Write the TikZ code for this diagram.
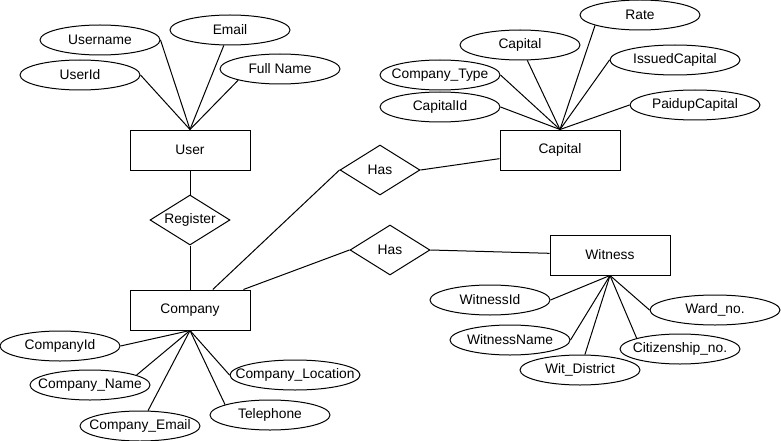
\documentclass[tikz,border=0pt]{standalone}
\usepackage{fontspec}
\setmainfont{Liberation Sans}
\usetikzlibrary{positioning,shapes.geometric}

\begin{document}
\begin{tikzpicture}[
    x=1pt, y=-1pt,
    font=\fontsize{13.8}{16}\selectfont,
    every path/.style={line width=1pt},
    entity/.style={rectangle, draw, line width=1pt, minimum width=120pt, minimum height=40pt, inner sep=0pt},
    rel/.style={diamond, draw, line width=1pt, minimum width=80pt, minimum height=50pt, inner sep=0pt, aspect=1.6},
    attr/.style={ellipse, draw, line width=1pt, minimum width=120pt, minimum height=30pt, inner sep=0pt,
        execute at begin node={\hbox to 0pt\bgroup\hss}, execute at end node={\hss\egroup}},
    wide/.style={minimum width=130pt}
]
\useasboundingbox (0,0) rectangle (781,441);

% Entities
\node[entity] (user) at (190,150) {User};
\node[entity] (company) at (190,310) {Company};
\node[entity] (capital) at (560,150) {Capital};
\node[entity] (witness) at (610,255) {Witness};

% Relations
\node[rel] (register) at (190,220) {Register};
\node[rel] (hascap) at (380,170) {Has};
\node[rel] (haswit) at (390,250) {Has};

% User attributes
\node[attr] (username) at (100,40) {Username};
\node[attr] (email) at (230,30) {Email};
\node[attr] (userid) at (80,75) {UserId};
\node[attr] (fullname) at (280,69) {Full Name};

% Capital attributes
\node[attr] (rate) at (640,15) {Rate};
\node[attr] (capattr) at (520,45) {Capital};
\node[attr, wide] (issued) at (675,60) {IssuedCapital};
\node[attr] (comptype) at (440,75) {Company\_Type};
\node[attr] (capid) at (440,107) {CapitalId};
\node[attr, wide] (paidup) at (695,105) {PaidupCapital};

% Company attributes
\node[attr] (compid) at (60,346) {CompanyId};
\node[attr] (compname) at (90,385) {Company\_Name};
\node[attr] (compemail) at (140,426) {Company\_Email};
\node[attr, wide] (comploc) at (295,375) {Company\_Location};
\node[attr] (tel) at (270,415) {Telephone};

% Witness attributes
\node[attr] (witid) at (490,300) {WitnessId};
\node[attr] (witname) at (510,340) {WitnessName};
\node[attr] (witdist) at (580,370) {Wit\_District};
\node[attr] (citizen) at (680,349) {Citizenship\_no.};
\node[attr, wide] (ward) at (715,310) {Ward\_no.};

% Attribute links
\draw (user.north) -- (username.east);
\draw (user.north) -- (email);
\draw (user.north) -- (userid.east);
\draw (user.north) -- (fullname.195);

\draw (capital.north) -- (rate.193);
\draw (capital.north) -- (capattr);
\draw (capital.north) -- (issued.west);
\draw (capital.north) -- (comptype.east);
\draw (capital.north) -- (capid.east);
\draw (capital.north) -- (paidup.west);

\draw (company.south) -- (compid.east);
\draw (company.south) -- (compname.12);
\draw (company.south) -- (compemail);
\draw (company.south) -- (comploc.west);
\draw (company.south) -- (tel.167);

\draw (witness.south) -- (witid.east);
\draw (witness.south) -- (witname.east);
\draw (witness.south) -- (witdist);
\draw (witness.south) -- (citizen.166);
\draw (witness.south) -- (ward.west);

% Relation links
\draw (user.south) -- (register.north);
\draw (register.south) -- (company.north);
\draw (company.42) -- (hascap.west);
\draw (hascap.east) -- (capital);
\draw (company.21) -- (haswit.west);
\draw (haswit.east) -- (witness);

\end{tikzpicture}
\end{document}
